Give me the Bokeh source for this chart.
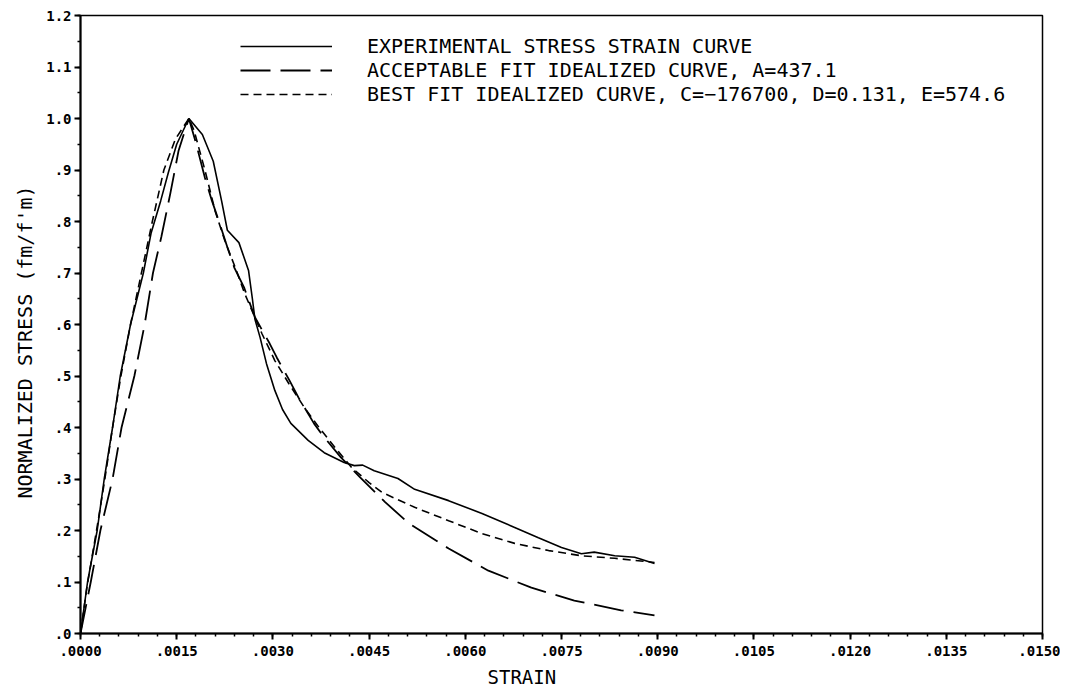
from bokeh.plotting import figure
from bokeh.models import FixedTicker, Legend, LegendItem, Title
from bokeh.embed import file_html
from bokeh.resources import INLINE
import numpy as np

# ---------------- data ----------------
EXP_STRAIN = [0.0, 0.00011, 0.00026, 0.00037, 0.00050, 0.00062, 0.00078, 0.00098, 0.00110,
              0.00125, 0.00137, 0.00150, 0.00169, 0.00190, 0.00207, 0.00220, 0.00229, 0.00247,
              0.00262, 0.00268, 0.00272, 0.00280, 0.00290, 0.00303, 0.00315, 0.00328, 0.00355,
              0.00380, 0.00411, 0.00427, 0.00440, 0.00458, 0.00495, 0.00521, 0.00574, 0.00626,
              0.00677, 0.00714, 0.00750, 0.00781, 0.00801, 0.00833, 0.00864, 0.00895]
EXP_STRESS = [0.0, 0.10, 0.20, 0.30, 0.40, 0.50, 0.60, 0.70, 0.777,
              0.84, 0.895, 0.95, 1.00, 0.969, 0.917, 0.84, 0.783, 0.759,
              0.705, 0.65, 0.61, 0.575, 0.524, 0.472, 0.435, 0.408, 0.375,
              0.351, 0.332, 0.326, 0.327, 0.316, 0.301, 0.280, 0.258, 0.233,
              0.206, 0.186, 0.167, 0.155, 0.158, 0.151, 0.148, 0.136]

ACC_STRAIN = [0.0, 0.00016, 0.00031, 0.00050, 0.00064, 0.00084, 0.00100, 0.00113, 0.00126,
              0.00140, 0.00153, 0.00169, 0.00179, 0.00194, 0.00205, 0.00216, 0.00229, 0.00240,
              0.00255, 0.00272, 0.00295, 0.00306, 0.00326, 0.00340, 0.00364, 0.00378, 0.00406,
              0.00436, 0.00475, 0.00512, 0.00574, 0.00636, 0.00703, 0.00770, 0.00843, 0.00895]
ACC_STRESS = [0.0, 0.10, 0.20, 0.30, 0.40, 0.50, 0.60, 0.70, 0.77,
              0.854, 0.938, 1.00, 0.957, 0.885, 0.84, 0.80, 0.75, 0.71,
              0.672, 0.614, 0.563, 0.536, 0.491, 0.458, 0.408, 0.384, 0.342,
              0.303, 0.255, 0.214, 0.165, 0.122, 0.089, 0.064, 0.045, 0.035]

BEST_STRAIN = [0.0, 0.00010, 0.00025, 0.00038, 0.00050, 0.00063, 0.00078, 0.00095, 0.00112,
               0.00130, 0.00148, 0.00169, 0.00177, 0.00194, 0.00210, 0.00225, 0.00243, 0.00256,
               0.00283, 0.00303, 0.00325, 0.00349, 0.00372, 0.00397, 0.00423, 0.00450, 0.00470,
               0.00521, 0.00574, 0.00626, 0.00677, 0.00730, 0.00781, 0.00833, 0.00895]
BEST_STRESS = [0.0, 0.09, 0.20, 0.30, 0.40, 0.50, 0.60, 0.70, 0.80,
               0.90, 0.96, 1.00, 0.977, 0.90, 0.82, 0.763, 0.705, 0.66,
               0.582, 0.53, 0.485, 0.439, 0.40, 0.361, 0.322, 0.293, 0.274,
               0.245, 0.219, 0.194, 0.175, 0.161, 0.151, 0.146, 0.138]

SERIES_LABELS = ["EXPERIMENTAL STRESS STRAIN CURVE",
                 "ACCEPTABLE FIT IDEALIZED CURVE, A=437.1",
                 "BEST FIT IDEALIZED CURVE, C=\u2212176700, D=0.131, E=574.6"]

X_TICKS = [0.0, 0.0015, 0.0030, 0.0045, 0.0060, 0.0075, 0.0090, 0.0105, 0.0120, 0.0135, 0.0150]
X_TICK_LABELS = [".0000", ".0015", ".0030", ".0045", ".0060", ".0075", ".0090",
                 ".0105", ".0120", ".0135", ".0150"]
Y_TICKS = [0.0, 0.1, 0.2, 0.3, 0.4, 0.5, 0.6, 0.7, 0.8, 0.9, 1.0, 1.1, 1.2]
Y_TICK_LABELS = [".0", ".1", ".2", ".3", ".4", ".5", ".6", ".7", ".8", ".9", "1.0", "1.1", "1.2"]

X_LABEL = "STRAIN"
Y_LABEL = "NORMALIZED STRESS (fm/f'm)"

# ---------------- figure ----------------
FONT = "DejaVu Sans Mono"
W, H = 1060, 694
FL, FT, FR, FB = 80, 15, 18, 61   # borders around the frame

p = figure(width=W, height=H, output_backend="svg", toolbar_location=None,
           x_range=(0.0, 0.015), y_range=(0.0, 1.2),
           min_border_left=FL, min_border_right=FR, min_border_top=FT, min_border_bottom=FB)
p.background_fill_color = "white"
p.border_fill_color = "white"
p.outline_line_color = "black"
p.outline_line_width = 1.5
p.xgrid.visible = False
p.ygrid.visible = False

x_minor = list(np.round(np.arange(0.0, 0.015 + 1e-9, 0.0003), 6))
y_minor = list(np.round(np.arange(0.0, 1.2 + 1e-9, 0.05), 4))
p.xaxis.ticker = FixedTicker(ticks=X_TICKS, minor_ticks=x_minor)
p.yaxis.ticker = FixedTicker(ticks=Y_TICKS, minor_ticks=y_minor)
p.xaxis.major_label_overrides = dict(zip(X_TICKS, X_TICK_LABELS))
p.yaxis.major_label_overrides = dict(zip(Y_TICKS, Y_TICK_LABELS))

for ax in (p.xaxis[0], p.yaxis[0]):
    ax.axis_line_width = 2
    ax.axis_line_color = "black"
    ax.major_tick_line_width = 2
    ax.major_tick_line_color = "black"
    ax.minor_tick_line_width = 1.5
    ax.minor_tick_line_color = "black"
    ax.major_tick_out = 6
    ax.major_tick_in = 0
    ax.minor_tick_out = 3
    ax.minor_tick_in = 0
    ax.major_label_text_font = FONT
    ax.major_label_text_font_style = "bold"
    ax.major_label_text_font_size = "14px"
    ax.major_label_text_color = "black"

p.xaxis.major_label_standoff = 6
p.yaxis.major_label_standoff = 3

r_exp = p.line(EXP_STRAIN, EXP_STRESS, line_color="black", line_width=1.6)
r_acc = p.line(ACC_STRAIN, ACC_STRESS, line_color="black", line_width=1.8, line_dash="30 10")
r_best = p.line(BEST_STRAIN, BEST_STRESS, line_color="black", line_width=1.6, line_dash="8 5")

legend = Legend(items=[LegendItem(label=SERIES_LABELS[0], renderers=[r_exp]),
                       LegendItem(label=SERIES_LABELS[1], renderers=[r_acc]),
                       LegendItem(label=SERIES_LABELS[2], renderers=[r_best])],
                location=(160, 527), padding=0, margin=0, spacing=0,
                glyph_width=92, glyph_height=24, label_height=24, label_standoff=35,
                border_line_alpha=0, background_fill_alpha=0,
                label_text_font=FONT, label_text_font_size="20px", label_text_color="black")
p.add_layout(legend, "center")

# axis titles, placed off the frame centre as in the original drawing
xtitle = Title(text=X_LABEL, align="left", offset=407, standoff=11,
               text_font=FONT, text_font_size="19px", text_font_style="normal",
               text_color="black")
ytitle = Title(text=Y_LABEL, align="left", offset=135, standoff=14,
               text_font=FONT, text_font_size="20px", text_font_style="normal",
               text_color="black")
p.add_layout(xtitle, "below")
p.add_layout(ytitle, "left")

open("out.html", "w").write(file_html(p, INLINE))
